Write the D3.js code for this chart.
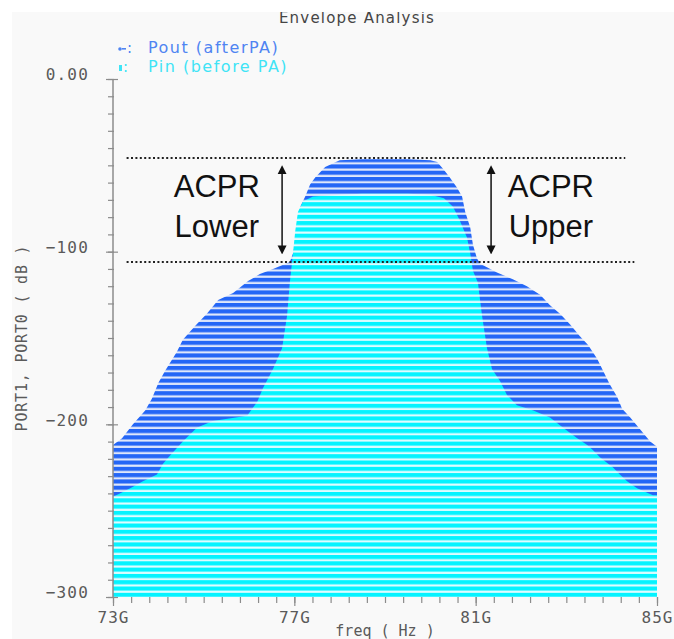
<!DOCTYPE html>
<html><head><meta charset="utf-8">
<script src="https://cdn.jsdelivr.net/npm/d3@7"></script>
<style>body{margin:0;background:#fff} svg{display:block}</style>
</head><body>
<svg id="c" width="674" height="639"></svg>
<script>
// ---------- data (GHz, dB) ----------
const freqPout = [73.0, 73.2, 73.44, 73.71, 73.86, 74.0, 74.15, 74.41, 74.54, 74.81, 75.07, 75.32, 75.65, 75.98, 76.24, 76.53, 76.9, 76.97, 77.06, 77.13, 77.24, 77.35, 77.46, 77.68, 78.0, 78.5, 79.0, 79.5, 80.0, 80.15, 80.28, 80.43, 80.59, 80.7, 80.77, 80.88, 80.94, 81.03, 81.1, 81.47, 81.82, 82.13, 82.42, 82.64, 82.86, 83.08, 83.3, 83.48, 83.68, 83.81, 83.96, 84.12, 84.23, 84.41, 84.63, 84.85, 85.0];
const dbPout   = [-212, -208, -200, -192, -185, -176, -169, -158, -151, -143, -136, -128, -124, -117, -113, -110, -106, -101, -90, -74, -68, -61, -57, -51, -47, -46.5, -46.5, -46.5, -47, -48, -52, -57, -63, -68, -77, -86, -96, -104, -107, -112, -116, -120, -125, -131, -136, -142, -149, -154, -162, -169, -177, -184, -191, -196, -203, -210, -213];
const freqPin  = [73.0, 73.15, 73.38, 73.66, 73.97, 74.1, 74.26, 74.54, 74.85, 75.2, 75.96, 76.18, 76.31, 76.53, 76.73, 76.84, 76.9, 76.97, 77.02, 77.08, 77.19, 77.41, 78.0, 78.5, 79.0, 79.5, 80.0, 80.3, 80.5, 80.65, 80.81, 80.88, 80.94, 81.05, 81.14, 81.25, 81.36, 81.54, 81.69, 81.91, 82.27, 82.64, 82.93, 83.24, 83.46, 83.59, 83.74, 84.03, 84.18, 84.34, 84.56, 84.91, 85.0];
const dbPin    = [-242, -240, -237, -233, -229, -223, -218, -210, -202, -198, -195, -187, -179, -168, -156, -137, -118, -101, -88, -77, -71, -68, -67, -66.5, -66.5, -66.5, -67, -69, -74, -82, -92, -101, -111, -118, -137, -156, -168, -175, -183, -189, -192, -196, -202, -208, -212, -215, -219, -225, -229, -233, -237, -241, -241];

const yMajorTicks = [0, -100, -200, -300];
const yTickLabels = ["0.00", "\u2212100", "\u2212200", "\u2212300"];
const xMajorTicks = [73, 77, 81, 85];
const xTickLabels = ["73G", "77G", "81G", "85G"];

const acprLevels = [-45.8, -106];      // dotted reference lines (dB)
const acprLineStart = [73.3, 73.3];
const acprLineEnd = [84.3, 84.5];
const arrowFreqs = [76.73, 81.34];
const arrowRange = [-52.5, -99];
const labelFreqs = [75.29, 82.66];
const labelLines = [["ACPR", "Lower"], ["ACPR", "Upper"]];
const labelDb = [-68.3, -91.5];

const seriesNames = ["Pout (afterPA)", "Pin (before PA)"];

// ---------- layout ----------
const svg = d3.select("#c");
const x = d3.scaleLinear([73, 85], [113, 657]);
const y = d3.scaleLinear([0, -300], [79, 597]);

svg.append("rect").attr("x", 12).attr("y", 12).attr("width", 662).attr("height", 627).attr("fill", "#f9f9f9");

const defs = svg.append("defs");
function stripes(id, bg, fg) {
  const p = defs.append("pattern").attr("id", id).attr("patternUnits", "userSpaceOnUse")
    .attr("x", 0).attr("y", 0.6).attr("width", 674).attr("height", 6.3);
  p.append("rect").attr("width", 674).attr("height", 6.3).attr("fill", bg);
  p.append("rect").attr("width", 674).attr("height", 4.1).attr("fill", fg);
}
stripes("pBlue", "#dfe7fb", "#2466f6");
stripes("pCyan", "#dffcff", "#05f3ff");

defs.append("marker").attr("id", "ah").attr("viewBox", "0 0 10 10").attr("refX", 5).attr("refY", 5)
  .attr("markerWidth", 9).attr("markerHeight", 10).attr("markerUnits", "userSpaceOnUse")
  .attr("orient", "auto-start-reverse")
  .append("path").attr("d", "M0,0 L10,5 L0,10 Z").attr("fill", "#111");

const area = d3.area().x(d => x(d[0])).y0(y(-300)).y1(d => y(d[1])).curve(d3.curveLinear);

svg.append("path").datum(d3.zip(freqPout, dbPout)).attr("d", area).attr("fill", "url(#pBlue)");
svg.append("path").datum(d3.zip(freqPin, dbPin)).attr("d", area).attr("fill", "url(#pCyan)");

// ---------- axes ----------
const axisColor = "#8c8c8c", textColor = "#5a5a5a";
const monoFont = "'DejaVu Sans Mono', monospace";
const sansFont = "'DejaVu Sans', sans-serif";

svg.append("line").attr("x1", x(73)).attr("x2", x(73)).attr("y1", y(0)).attr("y2", y(-300))
  .attr("stroke", axisColor).attr("stroke-width", 1.5);

const yMinor = svg.append("g").attr("transform", "translate(114,0)")
  .call(d3.axisLeft(y).tickValues(d3.range(0, -301, -10)).tickSize(6).tickFormat(""));
const yMajor = svg.append("g").attr("transform", "translate(118,0)")
  .call(d3.axisLeft(y).tickValues(yMajorTicks).tickSize(12).tickPadding(17)
    .tickFormat((d, i) => yTickLabels[i]));
[yMinor, yMajor].forEach(g => {
  g.select(".domain").remove();
  g.selectAll("line").attr("stroke", axisColor).attr("stroke-width", 1.2);
});
yMajor.selectAll("text").attr("dy", "0.05em").attr("fill", textColor)
  .style("font-family", monoFont).style("font-size", "16px").style("letter-spacing", "1.2px");

const xMinor = svg.append("g").attr("transform", `translate(0,${y(-300)})`)
  .call(d3.axisBottom(x).tickValues(d3.range(0, 31).map(i => 73 + i * 0.4)).tickSize(6).tickFormat(""));
const xMajor = svg.append("g").attr("transform", `translate(0,${y(-300)})`)
  .call(d3.axisBottom(x).tickValues(xMajorTicks).tickSize(9).tickPadding(6)
    .tickFormat((d, i) => xTickLabels[i]));
[xMinor, xMajor].forEach(g => {
  g.select(".domain").remove();
  g.selectAll("line").attr("stroke", axisColor).attr("stroke-width", 1.2);
});
xMajor.selectAll("text").attr("fill", textColor)
  .style("font-family", monoFont).style("font-size", "16px").style("letter-spacing", "1px");

svg.append("text").attr("x", (x(73) + x(85)) / 2).attr("y", 636).attr("text-anchor", "middle")
  .attr("fill", textColor).style("font-family", monoFont).style("font-size", "15px").text("freq ( Hz )");
svg.append("text").attr("transform", `translate(27,${(y(0) + y(-300)) / 2}) rotate(-90)`)
  .attr("text-anchor", "middle").attr("fill", textColor)
  .style("font-family", monoFont).style("font-size", "15px").style("letter-spacing", "0.8px")
  .text("PORT1, PORT0 ( dB )");

// ---------- title & legend ----------
svg.append("text").attr("x", 357).attr("y", 23).attr("text-anchor", "middle").attr("fill", "#454545")
  .style("font-family", sansFont).style("font-size", "15px").style("letter-spacing", "1.2px")
  .text("Envelope Analysis");
svg.append("rect").attr("x", 0).attr("y", 0).attr("width", 674).attr("height", 12).attr("fill", "#fff");

const legColors = ["#4f84f2", "#3fe4f6"];
seriesNames.forEach((name, i) => {
  const by = 53 + i * 19;
  const g = svg.append("g").attr("fill", legColors[i]);
  if (i === 0) {
    g.append("circle").attr("cx", 120).attr("cy", by - 4).attr("r", 1.8);
    g.append("rect").attr("x", 122).attr("y", by - 5).attr("width", 4).attr("height", 1.6);
  } else {
    g.append("rect").attr("x", 119).attr("y", by - 7).attr("width", 3).attr("height", 6);
  }
  g.append("text").attr("x", i === 0 ? 127 : 123).attr("y", by)
    .style("font-family", sansFont).style("font-size", "15px").text(":");
  g.append("text").attr("x", 148).attr("y", by)
    .style("font-family", sansFont).style("font-size", "16px").style("letter-spacing", "1.5px").text(name);
});

// ---------- ACPR annotations ----------
acprLevels.forEach((lv, i) => {
  svg.append("line").attr("x1", x(acprLineStart[i])).attr("x2", x(acprLineEnd[i]))
    .attr("y1", y(lv)).attr("y2", y(lv)).attr("stroke", "#222").attr("stroke-width", 2)
    .attr("stroke-dasharray", "2,2.4");
});
arrowFreqs.forEach(f => {
  svg.append("line").attr("x1", x(f)).attr("x2", x(f)).attr("y1", y(arrowRange[0])).attr("y2", y(arrowRange[1]))
    .attr("stroke", "#111").attr("stroke-width", 1.5)
    .attr("marker-start", "url(#ah)").attr("marker-end", "url(#ah)");
});

labelFreqs.forEach((f, i) => {
  labelLines[i].forEach((t, j) => {
    svg.append("text").attr("x", x(f)).attr("y", y(labelDb[j])).attr("text-anchor", "middle")
      .attr("fill", "#111").style("font-family", "'Liberation Sans', Arial, sans-serif").style("font-size", "31px")
      .text(t);
  });
});
</script>
</body></html>
